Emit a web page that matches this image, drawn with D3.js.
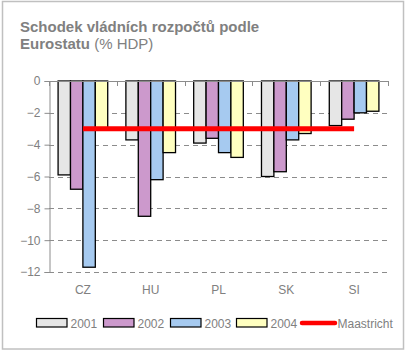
<!DOCTYPE html>
<html>
<head>
<meta charset="utf-8">
<script src="https://d3js.org/d3.v7.min.js"></script>
<style>
  body { margin: 0; background: #fff; }
  text { font-family: Arial, "Liberation Sans", sans-serif; fill: #808080; }
</style>
</head>
<body>
<svg id="chart"></svg>
<script>
// data
var countries = ["CZ", "HU", "PL", "SK", "SI"];
var years = ["2001", "2002", "2003", "2004"];
var v2001 = [-5.9, -3.7, -3.9, -6.0, -2.8];
var v2002 = [-6.8, -8.5, -3.6, -5.7, -2.4];
var v2003 = [-11.7, -6.2, -4.5, -3.7, -2.0];
var v2004 = [-3.0, -4.5, -4.8, -3.3, -1.9];
var maastricht = -3;
var yTicks = [0, -2, -4, -6, -8, -10, -12];
var colors = ["#E6E6E6", "#CC99CC", "#A6CAF0", "#FFFFC0"];

var series = [v2001, v2002, v2003, v2004];
var W = 407, H = 351;

var svg = d3.select("#chart").attr("width", W).attr("height", H);

// frame
svg.append("rect")
  .attr("x", 2.5).attr("y", 1.5)
  .attr("width", 401).attr("height", 347.5)
  .attr("fill", "#fff")
  .attr("stroke", "#C0C0C0")
  .attr("stroke-width", 1.5);

// title
var title = svg.append("text").attr("x", 20).attr("y", 32)
  .style("font-size", "15px").style("font-weight", "bold")
  .text("Schodek vládních rozpočtů podle");
var t2 = svg.append("text").attr("x", 20).attr("y", 49).style("font-size", "15px");
t2.append("tspan").style("font-weight", "bold").text("Eurostatu");
t2.append("tspan").text(" (% HDP)");

// scales
var x = d3.scaleBand().domain(countries).range([49, 388]);
var bw = x.bandwidth();
var x1 = d3.scaleBand().domain(years).range([bw * 0.134, bw * 0.866]);
var y = d3.scaleLinear().domain([-12, 0]).range([272, 81]);

// gridlines
svg.append("g").selectAll("line")
  .data(yTicks.filter(function(d) { return d !== 0; }))
  .enter().append("line")
  .attr("x1", 49).attr("x2", 388)
  .attr("y1", function(d) { return Math.round(y(d)) + 0.5; })
  .attr("y2", function(d) { return Math.round(y(d)) + 0.5; })
  .attr("stroke", "#8C8C8C")
  .attr("stroke-dasharray", "5,4");

// bars
var groups = svg.append("g").selectAll("g")
  .data(countries).enter().append("g")
  .attr("transform", function(c) { return "translate(" + x(c) + ",0)"; });

groups.selectAll("rect")
  .data(function(c, i) {
    return years.map(function(yr, j) { return { year: yr, value: series[j][i], k: j }; });
  })
  .enter().append("rect")
  .attr("x", function(d) { return x1(d.year); })
  .attr("width", x1.bandwidth())
  .attr("y", y(0))
  .attr("height", function(d) { return y(d.value) - y(0); })
  .attr("fill", function(d) { return colors[d.k]; })
  .attr("stroke", "#000")
  .attr("stroke-width", 1.3);

// y axis
var yAxis = svg.append("g")
  .attr("transform", "translate(49.5,0)")
  .call(d3.axisLeft(y).tickValues(yTicks).tickSize(5).tickPadding(4));
yAxis.select(".domain").attr("stroke", "#8C8C8C");
yAxis.selectAll(".tick line").attr("stroke", "#8C8C8C");
yAxis.selectAll(".tick text")
  .style("font-size", "12px").attr("fill", "#808080")
  .style("font-family", "Arial, 'Liberation Sans', sans-serif");

// x axis line at zero with ticks at category boundaries
var xAxisG = svg.append("g");
xAxisG.append("line")
  .attr("x1", 49).attr("x2", 388)
  .attr("y1", Math.round(y(0)) + 0.5).attr("y2", Math.round(y(0)) + 0.5)
  .attr("stroke", "#8C8C8C");
xAxisG.selectAll(".xt")
  .data(countries.concat(["end"]))
  .enter().append("line")
  .attr("x1", function(c, i) { return Math.round(i < countries.length ? x(c) : x.range()[1]) + 0.5; })
  .attr("x2", function(c, i) { return Math.round(i < countries.length ? x(c) : x.range()[1]) + 0.5; })
  .attr("y1", Math.round(y(0))).attr("y2", Math.round(y(0)) + 5)
  .attr("stroke", "#8C8C8C");

// category labels
svg.append("g").selectAll("text")
  .data(countries).enter().append("text")
  .attr("x", function(c) { return x(c) + bw / 2; })
  .attr("y", 294)
  .attr("text-anchor", "middle")
  .style("font-size", "12px")
  .text(function(c) { return c; });

// maastricht line
svg.append("line")
  .attr("x1", x("CZ") + bw / 2).attr("x2", x("SI") + bw / 2)
  .attr("y1", y(maastricht)).attr("y2", y(maastricht))
  .attr("stroke", "#FF0000")
  .attr("stroke-width", 5);

// legend
var legX = [36, 103, 170, 236];
var leg = svg.append("g");
years.forEach(function(yr, j) {
  leg.append("rect")
    .attr("x", legX[j] + 0.5).attr("y", 318.5)
    .attr("width", 30.5).attr("height", 8.5)
    .attr("fill", colors[j]).attr("stroke", "#000").attr("stroke-width", 1.2);
  leg.append("text")
    .attr("x", legX[j] + 34.5).attr("y", 327.5)
    .style("font-size", "12px")
    .text(yr);
});
leg.append("line")
  .attr("x1", 302).attr("x2", 335)
  .attr("y1", 323).attr("y2", 323)
  .attr("stroke", "#FF0000").attr("stroke-width", 4.5)
  .attr("stroke-linecap", "round");
leg.append("text")
  .attr("x", 337.5).attr("y", 327.5)
  .style("font-size", "12px")
  .text("Maastricht");
</script>
</body>
</html>
